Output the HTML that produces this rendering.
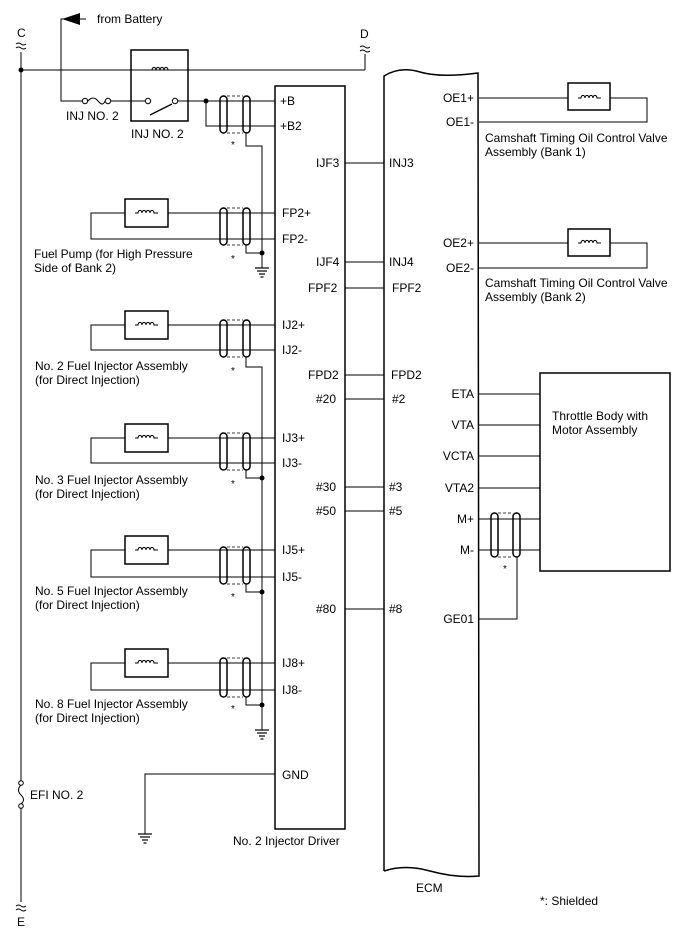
<!DOCTYPE html>
<html><head><meta charset="utf-8"><style>
html,body{margin:0;padding:0;background:#fff}
svg{display:block}
text{font-family:"Liberation Sans",Arial,sans-serif;font-size:12px;fill:#000}
</style></head><body>
<svg width="688" height="949" viewBox="0 0 688 949" xmlns="http://www.w3.org/2000/svg">
<defs>
<g id="coil"><path d="M-11,0 h3 a2,2.6 0 1 1 4,0 a2,2.6 0 1 1 4,0 a2,2.6 0 1 1 4,0 a2,2.6 0 1 1 4,0 h4" fill="none" stroke="#000" stroke-width="1.1"/></g>
<g id="gnd" stroke="#000" stroke-width="1.2"><line x1="-7" y1="0" x2="7" y2="0"/><line x1="-5" y1="3" x2="5" y2="3"/><line x1="-3" y1="6" x2="3" y2="6"/><line x1="-1.5" y1="9" x2="1.5" y2="9"/></g>
</defs>
<g fill="none" stroke="#000" stroke-width="1">
<line x1="21" y1="52" x2="21" y2="782"/>
<line x1="21" y1="806" x2="21" y2="902"/>
<line x1="21" y1="70" x2="365" y2="70"/>
<line x1="365" y1="70" x2="365" y2="54"/>
<polyline points="86,19 61,19 61,101 82,101"/>
<line x1="110" y1="101" x2="145" y2="101"/>
<line x1="178" y1="101" x2="275" y2="101"/>
<polyline points="206,101 206,126 275,126"/>
<circle cx="85" cy="101" r="2.7" fill="#fff"/><circle cx="108" cy="101" r="2.7" fill="#fff"/>
<path d="M88,101 q5,-6 10,0 q5,6 7,0"/>
<rect x="131" y="50" width="57" height="71" stroke-width="1.5"/>
<circle cx="148" cy="101" r="2.7"/><circle cx="175" cy="101" r="2.7"/>
<line x1="150" y1="115" x2="172" y2="104" stroke-width="1.3"/>
<rect x="275" y="86" width="70" height="743" stroke-width="1.5"/>
<path d="M384,871 L384,76 Q400,66 420,72 Q440,78 478,73 L479,876 Q455,878 430,871 Q405,864 384,871" stroke-width="1.5"/>
<line x1="345" y1="163" x2="384" y2="163"/>
<line x1="345" y1="262" x2="384" y2="262"/>
<line x1="345" y1="288" x2="384" y2="288"/>
<line x1="345" y1="375" x2="384" y2="375"/>
<line x1="345" y1="399" x2="384" y2="399"/>
<line x1="345" y1="487" x2="384" y2="487"/>
<line x1="345" y1="511" x2="384" y2="511"/>
<line x1="345" y1="609" x2="384" y2="609"/>
<polyline points="246,132 246,146 262,146 262,268"/>
<polyline points="275,213 91,213 91,239 275,239"/>
<rect x="125" y="199" width="43" height="28" stroke-width="1.5" fill="#fff"/>
<polyline points="246,245 246,253 262,253"/>
<polyline points="275,325 91,325 91,350 275,350"/>
<rect x="125" y="311" width="43" height="28" stroke-width="1.5" fill="#fff"/>
<polyline points="275,438 91,438 91,463 275,463"/>
<rect x="125" y="424" width="43" height="28" stroke-width="1.5" fill="#fff"/>
<polyline points="275,550 91,550 91,577 275,577"/>
<rect x="125" y="536" width="43" height="28" stroke-width="1.5" fill="#fff"/>
<polyline points="275,663 91,663 91,690 275,690"/>
<rect x="125" y="649" width="43" height="28" stroke-width="1.5" fill="#fff"/>
<polyline points="246,357 246,367 262,367 262,730"/>
<polyline points="246,470 246,478 262,478"/>
<polyline points="246,584 246,592 262,592"/>
<polyline points="246,697 246,705 262,705"/>
<polyline points="275,774 145,774 145,834"/>
<polyline points="479,98 647,98 647,122 479,122"/>
<rect x="568" y="83" width="42" height="27" stroke-width="1.5" fill="#fff"/>
<polyline points="479,243 647,243 647,268 479,268"/>
<rect x="568" y="229" width="42" height="27" stroke-width="1.5" fill="#fff"/>
<rect x="540" y="373" width="130" height="198" stroke-width="1.5"/>
<line x1="479" y1="394" x2="540" y2="394"/>
<line x1="479" y1="425" x2="540" y2="425"/>
<line x1="479" y1="456" x2="540" y2="456"/>
<line x1="479" y1="488" x2="540" y2="488"/>
<line x1="479" y1="519" x2="540" y2="519"/>
<line x1="479" y1="550" x2="540" y2="550"/>
<polyline points="517,557 517,619 479,619"/>
</g>
<polygon points="62,19 80,13 80,25" fill="#000"/>
<use href="#coil" x="160" y="70"/>
<use href="#coil" x="146" y="213"/>
<use href="#coil" x="146" y="325"/>
<use href="#coil" x="146" y="438"/>
<use href="#coil" x="146" y="550"/>
<use href="#coil" x="146" y="663"/>
<use href="#coil" x="589" y="98"/>
<use href="#coil" x="589" y="243"/>
<use href="#gnd" x="262" y="268"/>
<use href="#gnd" x="262" y="730"/>
<use href="#gnd" x="145" y="834"/>
<g fill="none" stroke="#000">
<g stroke-width="1.5">
<rect x="220" y="96" width="7" height="37" rx="3.5"/><rect x="243" y="96" width="7" height="37" rx="3.5"/>
<rect x="220" y="208" width="7" height="37" rx="3.5"/><rect x="243" y="208" width="7" height="37" rx="3.5"/>
<rect x="220" y="320" width="7" height="37" rx="3.5"/><rect x="243" y="320" width="7" height="37" rx="3.5"/>
<rect x="220" y="433" width="7" height="37" rx="3.5"/><rect x="243" y="433" width="7" height="37" rx="3.5"/>
<rect x="220" y="547" width="7" height="37" rx="3.5"/><rect x="243" y="547" width="7" height="37" rx="3.5"/>
<rect x="220" y="658" width="7" height="39" rx="3.5"/><rect x="243" y="658" width="7" height="39" rx="3.5"/>
<rect x="491" y="513" width="7" height="44" rx="3.5"/><rect x="513" y="513" width="7" height="44" rx="3.5"/>
</g>
<g stroke-dasharray="3,2" stroke-width="0.8">
<path d="M227,96h16M227,133h16M227,208h16M227,245h16M227,320h16M227,357h16M227,433h16M227,470h16M227,547h16M227,584h16M227,658h16M227,697h16M498,513h15M498,557h15"/>
</g>
</g>
<g fill="#000">
<circle cx="21" cy="70" r="2.5"/><circle cx="206" cy="101" r="2.5"/>
<circle cx="262" cy="253" r="2.5"/><circle cx="262" cy="478" r="2.5"/>
<circle cx="262" cy="592" r="2.5"/><circle cx="262" cy="705" r="2.5"/>
</g>
<g fill="#fff" stroke="#000"><circle cx="21" cy="783" r="2.3"/><circle cx="21" cy="806" r="2.3"/></g>
<path d="M21,785 q-5,5 0,10 q5,5 0,9" fill="none" stroke="#000"/>
<g fill="none" stroke="#000" stroke-width="0.9">
<path d="M16,44 q2.5,-2 5,0 t5,0 M16,48 q2.5,-2 5,0 t5,0"/>
<path d="M360,47 q2.5,-2 5,0 t5,0 M360,51 q2.5,-2 5,0 t5,0"/>
<path d="M16,906 q2.5,-2 5,0 t5,0 M16,910 q2.5,-2 5,0 t5,0"/>
</g>
<text x="17" y="37">C</text>
<text x="360" y="38">D</text>
<text x="17" y="926">E</text>
<text x="97" y="23">from Battery</text>
<text x="66" y="120">INJ NO. 2</text>
<text x="131" y="138">INJ NO. 2</text>
<text x="280" y="105">+B</text>
<text x="280" y="130">+B2</text>
<text x="316" y="167">IJF3</text>
<text x="389" y="167">INJ3</text>
<text x="282" y="217">FP2+</text>
<text x="282" y="243">FP2-</text>
<text x="34" y="258">Fuel Pump (for High Pressure</text>
<text x="34" y="272">Side of Bank 2)</text>
<text x="316" y="266">IJF4</text>
<text x="389" y="266">INJ4</text>
<text x="308" y="292">FPF2</text>
<text x="392" y="292">FPF2</text>
<text x="282" y="329">IJ2+</text>
<text x="282" y="354">IJ2-</text>
<text x="35" y="370">No. 2 Fuel Injector Assembly</text>
<text x="35" y="384">(for Direct Injection)</text>
<text x="308" y="379">FPD2</text>
<text x="391" y="379">FPD2</text>
<text x="316" y="403">#20</text>
<text x="392" y="403">#2</text>
<text x="282" y="442">IJ3+</text>
<text x="282" y="467">IJ3-</text>
<text x="35" y="484">No. 3 Fuel Injector Assembly</text>
<text x="35" y="498">(for Direct Injection)</text>
<text x="316" y="491">#30</text>
<text x="389" y="491">#3</text>
<text x="316" y="515">#50</text>
<text x="389" y="515">#5</text>
<text x="282" y="554">IJ5+</text>
<text x="282" y="581">IJ5-</text>
<text x="35" y="595">No. 5 Fuel Injector Assembly</text>
<text x="35" y="609">(for Direct Injection)</text>
<text x="316" y="613">#80</text>
<text x="389" y="613">#8</text>
<text x="282" y="667">IJ8+</text>
<text x="282" y="694">IJ8-</text>
<text x="35" y="708">No. 8 Fuel Injector Assembly</text>
<text x="35" y="722">(for Direct Injection)</text>
<text x="282" y="779">GND</text>
<text x="30" y="799">EFI NO. 2</text>
<text x="233" y="845">No. 2 Injector Driver</text>
<text x="416" y="892">ECM</text>
<text x="540" y="905">*: Shielded</text>
<text x="474" y="102" text-anchor="end">OE1+</text>
<text x="474" y="126" text-anchor="end">OE1-</text>
<text x="485" y="142">Camshaft Timing Oil Control Valve</text>
<text x="485" y="156">Assembly (Bank 1)</text>
<text x="474" y="247" text-anchor="end">OE2+</text>
<text x="474" y="272" text-anchor="end">OE2-</text>
<text x="485" y="287">Camshaft Timing Oil Control Valve</text>
<text x="485" y="301">Assembly (Bank 2)</text>
<text x="474" y="398" text-anchor="end">ETA</text>
<text x="474" y="429" text-anchor="end">VTA</text>
<text x="474" y="460" text-anchor="end">VCTA</text>
<text x="474" y="492" text-anchor="end">VTA2</text>
<text x="474" y="523" text-anchor="end">M+</text>
<text x="474" y="554" text-anchor="end">M-</text>
<text x="474" y="623" text-anchor="end">GE01</text>
<text x="552" y="420">Throttle Body with</text>
<text x="552" y="434">Motor Assembly</text>
<text x="231" y="148" style="font-size:10px">*</text>
<text x="231" y="262" style="font-size:10px">*</text>
<text x="231" y="374" style="font-size:10px">*</text>
<text x="231" y="487" style="font-size:10px">*</text>
<text x="231" y="600" style="font-size:10px">*</text>
<text x="231" y="712" style="font-size:10px">*</text>
<text x="503" y="572" style="font-size:10px">*</text>
</svg>
</body></html>
